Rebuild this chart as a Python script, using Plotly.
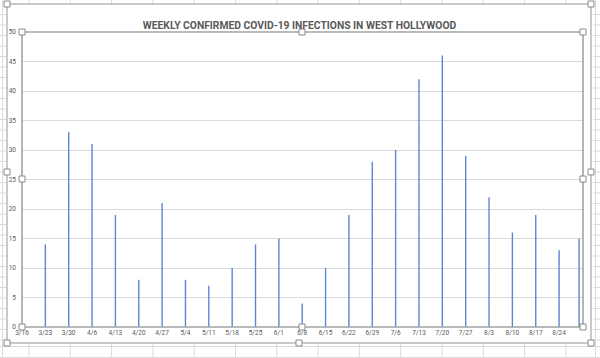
import plotly.graph_objects as go

# ---- data ----
week_labels = ["3/16", "3/23", "3/30", "4/6", "4/13", "4/20", "4/27", "5/4", "5/11",
               "5/18", "5/25", "6/1", "6/8", "6/15", "6/22", "6/29", "7/6", "7/13",
               "7/20", "7/27", "8/3", "8/10", "8/17", "8/24"]
week_dates = ["2020-03-16", "2020-03-23", "2020-03-30", "2020-04-06", "2020-04-13",
              "2020-04-20", "2020-04-27", "2020-05-04", "2020-05-11", "2020-05-18",
              "2020-05-25", "2020-06-01", "2020-06-08", "2020-06-15", "2020-06-22",
              "2020-06-29", "2020-07-06", "2020-07-13", "2020-07-20", "2020-07-27",
              "2020-08-03", "2020-08-10", "2020-08-17", "2020-08-24"]
report_dates = ["2020-03-23", "2020-03-30", "2020-04-06", "2020-04-13", "2020-04-20",
                "2020-04-27", "2020-05-04", "2020-05-11", "2020-05-18", "2020-05-25",
                "2020-06-01", "2020-06-08", "2020-06-15", "2020-06-22", "2020-06-29",
                "2020-07-06", "2020-07-13", "2020-07-20", "2020-07-27", "2020-08-03",
                "2020-08-10", "2020-08-17", "2020-08-24", "2020-08-30"]
infections = [14, 33, 31, 19, 8, 21, 8, 7, 10, 14, 15, 4, 10, 19, 28, 30, 42, 46,
              29, 22, 16, 19, 13, 15]
y_ticks = [0, 5, 10, 15, 20, 25, 30, 35, 40, 45, 50]

TITLE = "WEEKLY CONFIRMED COVID-19 INFECTIONS IN WEST HOLLYWOOD"

# ---- geometry ----
W, H = 600, 358
L, T, R, B = 22, 32, 583, 327


def px(x):
    return (x - L) / (R - L)


def py(y):
    return (B - y) / (B - T)


# drop lines built from the data arrays
xs, ys = [], []
for d, v in zip(report_dates, infections):
    xs += [d, d, None]
    ys += [0, v, None]

fig = go.Figure()
fig.add_trace(go.Scatter(x=xs, y=ys, mode="lines",
                         line=dict(color="#5b87d2", width=1.4),
                         hoverinfo="skip", showlegend=False))

shapes = []
grid_col = "#dadada"
# spreadsheet background grid (decoration)
col_x = [29 + 41.3 * k for k in range(14)]
for cx in col_x:
    shapes.append(dict(type="line", xref="paper", yref="paper",
                       x0=px(cx), x1=px(cx), y0=py(0), y1=py(4),
                       line=dict(color=grid_col, width=1), layer="below"))
    shapes.append(dict(type="line", xref="paper", yref="paper",
                       x0=px(cx), x1=px(cx), y0=py(344), y1=py(358),
                       line=dict(color=grid_col, width=1), layer="below"))
shapes.append(dict(type="line", xref="paper", yref="paper",
                   x0=px(595.5), x1=px(595.5), y0=py(0), y1=py(358),
                   line=dict(color=grid_col, width=1), layer="below"))
shapes.append(dict(type="line", xref="paper", yref="paper",
                   x0=px(2.5), x1=px(2.5), y0=py(0), y1=py(358),
                   line=dict(color=grid_col, width=1), layer="below"))
yy = 14.5
while yy < 343:
    shapes.append(dict(type="line", xref="paper", yref="paper",
                       x0=px(0), x1=px(6), y0=py(yy), y1=py(yy),
                       line=dict(color=grid_col, width=1), layer="below"))
    shapes.append(dict(type="line", xref="paper", yref="paper",
                       x0=px(593), x1=px(600), y0=py(yy), y1=py(yy),
                       line=dict(color=grid_col, width=1), layer="below"))
    yy += 10.5
for ry in [346.5, 357.5]:
    shapes.append(dict(type="line", xref="paper", yref="paper",
                       x0=px(0), x1=px(600), y0=py(ry), y1=py(ry),
                       line=dict(color=grid_col, width=1), layer="below"))

# chart area frame
shapes.append(dict(type="rect", xref="paper", yref="paper",
                   x0=px(7), x1=px(591), y0=py(343), y1=py(4),
                   line=dict(color="#b8b8b8", width=1.5), fillcolor="white",
                   layer="below"))
# plot area frame
shapes.append(dict(type="rect", xref="paper", yref="paper",
                   x0=0, x1=1, y0=0, y1=1,
                   line=dict(color="#a3a3a3", width=1.6), layer="above"))

# selection handles
handles = [(7, 4), (591, 4), (7, 172), (591, 172), (7, 343), (299, 343), (591, 343),
           (22, 32), (302, 32), (583, 32), (22, 179), (583, 179), (22, 327),
           (302, 327), (583, 327)]
for hx, hy in handles:
    shapes.append(dict(type="rect", xref="paper", yref="paper",
                       x0=px(hx - 3), x1=px(hx + 3), y0=py(hy + 3), y1=py(hy - 3),
                       line=dict(color="#8a8a8a", width=1), fillcolor="white",
                       layer="above"))

tick_font = dict(family="Roboto, Arial", size=6.5, color="#595959")

fig.update_layout(
    width=W, height=H,
    margin=dict(l=L, r=W - R, t=T, b=H - B, pad=0, autoexpand=False),
    paper_bgcolor="white", plot_bgcolor="rgba(0,0,0,0)",
    shapes=shapes,
    title=dict(text="<b>" + TITLE + "</b>", x=299.5 / W, xanchor="center",
               y=1 - 25.5 / H, yanchor="middle", yref="container",
               automargin=False,
               font=dict(family="Roboto, Arial", size=10.3, color="#595959")),
    xaxis=dict(type="date", range=["2020-03-16", "2020-08-31 04:00"],
               tickvals=week_dates, ticktext=week_labels, tickangle=0,
               showgrid=False, zeroline=False, showline=False, ticks="",
               tickfont=tick_font, fixedrange=True, automargin=False),
    yaxis=dict(range=[0, 50], tickvals=y_ticks, showgrid=True, gridcolor="#d9d9d9",
               gridwidth=1, zeroline=False, showline=False, ticks="",
               tickfont=tick_font, ticklabelstandoff=5, fixedrange=True,
               automargin=False),
)

fig.write_html("out.html", config={"displayModeBar": False},
               post_script="document.body.style.margin='0';document.body.style.overflow='hidden';")
